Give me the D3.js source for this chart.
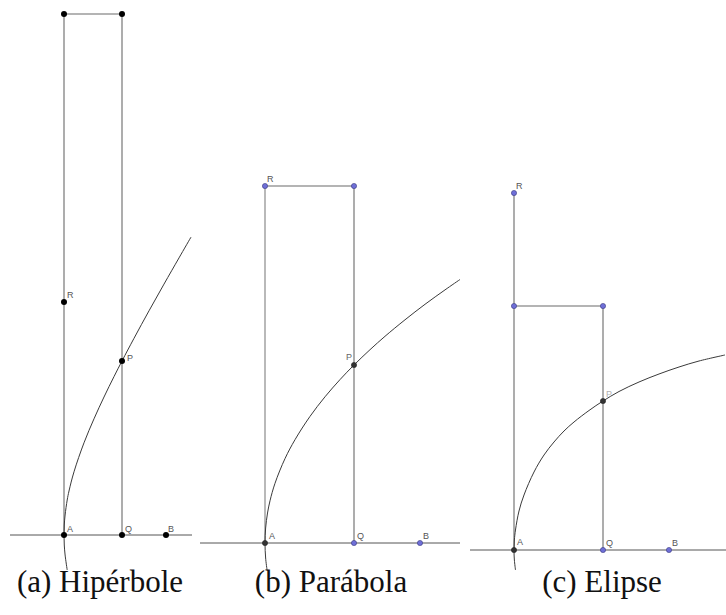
<!DOCTYPE html>
<html><head><meta charset="utf-8">
<script src="https://cdn.jsdelivr.net/npm/d3@7"></script>
<style>body{margin:0;background:#fff}</style>
</head><body>
<svg id="chart" width="726" height="615"></svg>
<script>
// ---------- data (units relative to A; x to the right, y upward) ----------
const captions = ["(a) Hipérbole", "(b) Parábola", "(c) Elipse"];

// (a) Hipérbole
const hypCurve = [[0.32,-3.5],[0.11,-2.0],[0.027,-1.0],[0,0],[0.027,1.0],[0.11,2.0],[0.32,3.5],[0.5,4.4],[1.0,6.32],[2.0,9.22],[3.0,11.62],[4.0,13.8],[5.0,15.84],[5.8,17.4],[7.0,19.67],[8.5,22.42],[10.0,25.09],[11.5,27.71],[12.7,29.79]];
const hypPoints = [
  {name:"A", x:0,   y:0,    kind:"dep"},
  {name:"Q", x:5.8, y:0,    kind:"dep"},
  {name:"B", x:10.2,y:0,    kind:"dep"},
  {name:"P", x:5.8, y:17.4, kind:"dep"},
  {name:"R", x:0,   y:23.3, kind:"dep"},
  {name:"",  x:0,   y:52.1, kind:"dep"},
  {name:"",  x:5.8, y:52.1, kind:"dep"}
];
const hypSegments = [
  {from:[-5.4,0], to:[12.8,0], tone:"axis"},
  {from:[0,0],   to:[0,52.1],  tone:"side"},
  {from:[5.8,0], to:[5.8,52.1],tone:"side"},
  {from:[0,52.1],to:[5.8,52.1],tone:"side"}
];

// (b) Parábola
const parCurve = [[0.205,-2.7],[0.063,-1.5],[0,0],[0.063,1.5],[0.253,3.0],[0.5,4.22],[1.0,5.97],[2.0,8.44],[3.0,10.33],[4.5,12.66],[6.0,14.62],[7.5,16.34],[8.9,17.8],[10.5,19.33],[12.0,20.67],[14.0,22.32],[16.0,23.87],[18.0,25.31],[19.5,26.35]];
const parPoints = [
  {name:"A", x:0,    y:0,    kind:"dep"},
  {name:"Q", x:8.9,  y:0,    kind:"free"},
  {name:"B", x:15.5, y:0,    kind:"free"},
  {name:"P", x:8.9,  y:17.8, kind:"dep"},
  {name:"R", x:0,    y:35.7, kind:"free"},
  {name:"",  x:8.9,  y:35.7, kind:"free"}
];
const parSegments = [
  {from:[-6.5,0], to:[19.5,0],  tone:"axis"},
  {from:[0,0],    to:[0,35.7],  tone:"light"},
  {from:[8.9,0],  to:[8.9,35.7],tone:"side"},
  {from:[0,35.7], to:[8.9,35.7],tone:"side"}
];

// (c) Elipse
const eliCurve = [[0.15,-2.0],[0.037,-1.0],[0,0],[0.037,1.0],[0.148,2.0],[0.5,3.9],[1.0,5.5],[2.0,7.8],[3.0,9.5],[4.0,10.8],[5.0,11.9],[6.0,12.8],[7.5,13.95],[8.9,14.9],[10.5,15.85],[12.5,16.8],[14.5,17.6],[16.5,18.3],[18.5,18.9],[21.1,19.5]];
const eliPoints = [
  {name:"A", x:0,    y:0,    kind:"dep"},
  {name:"Q", x:8.9,  y:0,    kind:"free"},
  {name:"B", x:15.5, y:0,    kind:"free"},
  {name:"P", x:8.9,  y:14.9, kind:"dep"},
  {name:"R", x:0,    y:35.7, kind:"free"},
  {name:"",  x:0,    y:24.4, kind:"free"},
  {name:"",  x:8.9,  y:24.4, kind:"free"}
];
const eliSegments = [
  {from:[-4.4,0], to:[21.2,0],  tone:"axis"},
  {from:[0,0],    to:[0,35.7],  tone:"side"},
  {from:[8.9,0],  to:[8.9,24.4],tone:"side"},
  {from:[0,24.4], to:[8.9,24.4],tone:"side"}
];

// ---------- layout & style ----------
const layout = [
  {origin:[64,535],  capX:100, curve:hypCurve, points:hypPoints, segments:hypSegments,
   labelOff:{A:[3,-3],Q:[3,-3],B:[2,-3],P:[5,0],R:[3,-4]}, pLabelColor:"#555"},
  {origin:[265,543], capX:331, curve:parCurve, points:parPoints, segments:parSegments,
   labelOff:{A:[4,-4],Q:[3,-4],B:[3,-4],P:[-8,-5],R:[2,-4]}, pLabelColor:"#666"},
  {origin:[514,550], capX:602, curve:eliCurve, points:eliPoints, segments:eliSegments,
   labelOff:{A:[3,-5],Q:[3,-4],B:[3,-4],P:[3,-4],R:[2,-4]}, pLabelColor:"#b0b0b0"}
];
const pxPerUnit = 10;
const captionY = 592;
const tones = {axis:{stroke:"#555", w:1}, side:{stroke:"#6a6a6a", w:1.1}, light:{stroke:"#a8a8a8", w:1.6}};

const svg = d3.select("#chart");

layout.forEach((p, i) => {
  const x = d3.scaleLinear().domain([0, 10]).range([p.origin[0], p.origin[0] + 10 * pxPerUnit]);
  const y = d3.scaleLinear().domain([0, 10]).range([p.origin[1], p.origin[1] - 10 * pxPerUnit]);
  const g = svg.append("g");

  g.selectAll("line.seg").data(p.segments).join("line")
    .attr("x1", d => x(d.from[0])).attr("y1", d => y(d.from[1]))
    .attr("x2", d => x(d.to[0])).attr("y2", d => y(d.to[1]))
    .attr("stroke", d => tones[d.tone].stroke)
    .attr("stroke-width", d => tones[d.tone].w);

  const line = d3.line().x(d => x(d[0])).y(d => y(d[1])).curve(d3.curveCatmullRom.alpha(0.5));
  g.append("path").datum(p.curve).attr("d", line)
    .attr("fill", "none").attr("stroke", "#3a3a3a").attr("stroke-width", 1);

  g.selectAll("circle").data(p.points).join("circle")
    .attr("cx", d => x(d.x)).attr("cy", d => y(d.y))
    .attr("r", d => i === 0 ? 3 : 2.6)
    .attr("fill", d => i === 0 ? "#000" : (d.kind === "free" ? "#6f6fd8" : "#333"))
    .attr("stroke", d => i === 0 ? "none" : (d.kind === "free" ? "#3a3a80" : "#222"))
    .attr("stroke-width", 0.6);

  g.selectAll("text.lbl").data(p.points.filter(d => d.name)).join("text")
    .attr("class", "lbl")
    .attr("x", d => x(d.x) + p.labelOff[d.name][0])
    .attr("y", d => y(d.y) + p.labelOff[d.name][1])
    .attr("font-family", "Liberation Sans, Arial, sans-serif")
    .attr("font-size", 9)
    .attr("fill", d => d.name === "P" ? p.pLabelColor : "#555")
    .text(d => d.name);

  svg.append("text")
    .attr("x", p.capX).attr("y", captionY)
    .attr("text-anchor", "middle")
    .attr("font-family", "Liberation Serif, Times New Roman, serif")
    .attr("font-size", 31)
    .attr("fill", "#111")
    .text(captions[i]);
});
</script>
</body></html>
